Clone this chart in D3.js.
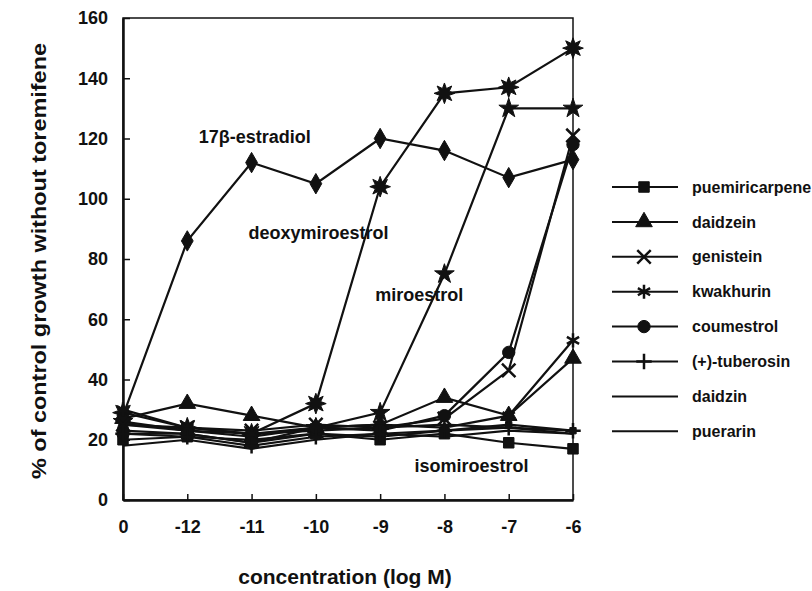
<!DOCTYPE html>
<html>
<head>
<meta charset="utf-8">
<script src="https://cdn.jsdelivr.net/npm/d3@7"></script>
<style>
  body { margin: 0; background: #fff; }
  text { font-family: "Liberation Sans", Arial, sans-serif; font-weight: bold; fill: #111; }
</style>
</head>
<body>
<div id="chart"></div>
<script>
// concentrations (log M), "0" = control
const concentrations = ["0", "-12", "-11", "-10", "-9", "-8", "-7", "-6"];
const yTicks = [0, 20, 40, 60, 80, 100, 120, 140, 160];

const estradiol       = [28, 86, 112, 105, 120, 116, 107, 113];
const deoxymiroestrol = [29, 24, 22, 32, 104, 135, 137, 150];
const miroestrol      = [26, 23, 21, 24, 29, 75, 130, 130];
const isomiroestrol   = [23, 22, 19, 22, 21, 23, 25, 23];
const puemiricarpene  = [20, 21, 20, 22, 20, 22, 19, 17];
const daidzein        = [27, 32, 28, 24, 25, 34, 28, 47];
const genistein       = [25, 24, 23, 25, 24, 27, 43, 121];
const kwakhurin       = [30, 24, 22, 24, 25, 24, 28, 53];
const coumestrol      = [22, 22, 19, 24, 23, 28, 49, 118];
const tuberosin       = [22, 21, 18, 21, 22, 23, 24, 23];
const daidzin         = [25, 23, 22, 23, 24, 25, 24, 22];
const puerarin        = [18, 20, 17, 20, 22, 21, 23, 22];

const W = 812, H = 591;
const margin = {top: 18, right: 239, bottom: 91, left: 123};
const plotW = W - margin.left - margin.right;
const plotH = H - margin.top - margin.bottom;

// 8-point burst for deoxymiroestrol
const symbolBurst = {
  draw(context, size) {
    const r = Math.sqrt(size) * 0.75, ri = r * 0.5, n = 8;
    for (let i = 0; i < n * 2; i++) {
      const a = Math.PI * i / n - Math.PI / 2;
      const rr = i % 2 === 0 ? r : ri;
      if (i === 0) context.moveTo(rr * Math.cos(a), rr * Math.sin(a));
      else context.lineTo(rr * Math.cos(a), rr * Math.sin(a));
    }
    context.closePath();
  }
};

const series = [
  {name: "17β-estradiol", values: estradiol, symbol: d3.symbolDiamond, size: 120, fill: true},
  {name: "deoxymiroestrol", values: deoxymiroestrol, symbol: symbolBurst, size: 190, fill: true},
  {name: "miroestrol", values: miroestrol, symbol: d3.symbolStar, size: 120, fill: true},
  {name: "isomiroestrol", values: isomiroestrol, symbol: d3.symbolSquare, size: 40, fill: true},
  {name: "puemiricarpene", values: puemiricarpene, symbol: d3.symbolSquare, size: 110, fill: true, legend: true},
  {name: "daidzein", values: daidzein, symbol: d3.symbolTriangle, size: 120, fill: true, legend: true},
  {name: "genistein", values: genistein, symbol: d3.symbolTimes, size: 120, fill: false, legend: true},
  {name: "kwakhurin", values: kwakhurin, symbol: d3.symbolAsterisk, size: 140, fill: false, legend: true},
  {name: "coumestrol", values: coumestrol, symbol: d3.symbolCircle, size: 120, fill: true, legend: true},
  {name: "(+)-tuberosin", values: tuberosin, symbol: d3.symbolPlus, size: 80, fill: false, legend: true},
  {name: "daidzin", values: daidzin, symbol: null, legend: true},
  {name: "puerarin", values: puerarin, symbol: null, legend: true}
];

const svg = d3.select("#chart").append("svg")
  .attr("width", W).attr("height", H);

const g = svg.append("g")
  .attr("transform", "translate(" + margin.left + "," + margin.top + ")");

const x = d3.scalePoint().domain(concentrations).range([0, plotW]);
const y = d3.scaleLinear().domain([0, 160]).range([plotH, 0]);

// box
g.append("rect")
  .attr("width", plotW).attr("height", plotH)
  .attr("fill", "none").attr("stroke", "#111").attr("stroke-width", 1.5);

// axes, ticks pointing inward
const yAxis = g.append("g")
  .call(d3.axisLeft(y).tickValues(yTicks).tickSizeInner(-7).tickSizeOuter(0).tickPadding(15));
const xAxis = g.append("g")
  .attr("transform", "translate(0," + plotH + ")")
  .call(d3.axisBottom(x).tickSizeInner(-6).tickSizeOuter(0).tickPadding(20));

[yAxis, xAxis].forEach(a => {
  a.select(".domain").attr("stroke", "#111").attr("stroke-width", 2.5);
  a.selectAll(".tick line").attr("stroke", "#111").attr("stroke-width", 1.5);
  a.selectAll(".tick text").style("font-size", "18px").style("font-weight", "bold").attr("fill", "#111");
});

// lines
const line = d3.line()
  .x((d, i) => x(concentrations[i]))
  .y(d => y(d));

series.forEach(s => {
  g.append("path")
    .datum(s.values)
    .attr("d", line)
    .attr("fill", "none")
    .attr("stroke", "#111")
    .attr("stroke-width", 2.2);
});

// markers
series.forEach(s => {
  if (!s.symbol) return;
  g.selectAll(null)
    .data(s.values)
    .enter()
    .append("path")
    .attr("transform", (d, i) => "translate(" + x(concentrations[i]) + "," + y(d) + ")")
    .attr("d", d3.symbol().type(s.symbol).size(s.size))
    .attr("fill", s.fill ? "#111" : "none")
    .attr("stroke", "#111")
    .attr("stroke-width", s.fill ? 1 : 2.5);
});

// in-plot labels (positions in data units)
const labels = [
  {text: "17β-estradiol", x: -10.95, y: 118.5},
  {text: "deoxymiroestrol", x: -9.96, y: 86.6},
  {text: "miroestrol", x: -8.39, y: 66},
  {text: "isomiroestrol", x: -7.58, y: 9.3}
];
const xNum = d3.scaleLinear().domain([-12, -6]).range([x("-12"), x("-6")]);
g.selectAll(".lbl")
  .data(labels)
  .enter()
  .append("text")
  .attr("class", "lbl")
  .attr("x", d => xNum(d.x))
  .attr("y", d => y(d.y))
  .attr("text-anchor", "middle")
  .style("font-size", "18px")
  .text(d => d.text);

// axis titles
svg.append("text")
  .attr("transform", "translate(46," + (margin.top + plotH / 2 + 2) + ") rotate(-90)")
  .attr("text-anchor", "middle")
  .attr("textLength", 436)
  .attr("lengthAdjust", "spacingAndGlyphs")
  .style("font-size", "21px")
  .text("% of control growth without toremifene");

svg.append("text")
  .attr("x", 345)
  .attr("y", 584)
  .attr("text-anchor", "middle")
  .style("font-size", "21px")
  .text("concentration (log M)");

// legend
const legendItems = series.filter(s => s.legend);
const legend = svg.append("g").attr("transform", "translate(612,187)");
const item = legend.selectAll("g")
  .data(legendItems)
  .enter()
  .append("g")
  .attr("transform", (d, i) => "translate(0," + i * 34.9 + ")");

item.append("line")
  .attr("x1", 0).attr("x2", 66)
  .attr("stroke", "#111").attr("stroke-width", 2);

item.filter(d => d.symbol)
  .append("path")
  .attr("transform", "translate(32,0)")
  .attr("d", d => d3.symbol().type(d.symbol).size(d.size)())
  .attr("fill", d => d.fill ? "#111" : "none")
  .attr("stroke", "#111")
  .attr("stroke-width", d => d.fill ? 1 : 2.5);

item.append("text")
  .attr("x", 80)
  .attr("dy", "0.35em")
  .style("font-size", "16px")
  .text(d => d.name);
</script>
</body>
</html>
